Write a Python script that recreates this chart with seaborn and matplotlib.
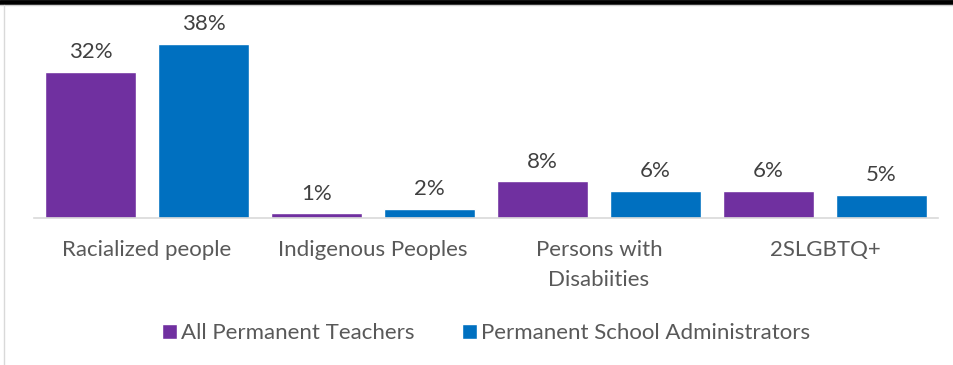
import matplotlib
matplotlib.use("Agg")
import matplotlib.pyplot as plt
from matplotlib.lines import Line2D
from matplotlib.patches import Rectangle
import seaborn as sns
import pandas as pd

categories = ["Racialized people", "Indigenous Peoples", "Persons with\nDisabiities", "2SLGBTQ+"]
series_names = ["All Permanent Teachers", "Permanent School Administrators"]
teachers = [32, 1, 8, 6]
administrators = [38, 2, 6, 5]
colors = ["#7030A0", "#0070C0"]

df = pd.DataFrame({
    "category": categories * 2,
    "group": [series_names[0]] * len(categories) + [series_names[1]] * len(categories),
    "value": teachers + administrators,
})

sns.set_theme(style="white")
plt.rcParams["font.family"] = ["Lato", "DejaVu Sans"]

fig = plt.figure(figsize=(9.54, 3.65), dpi=100)
ax = fig.add_axes([34 / 954, 1 - 218 / 365, 904 / 954, 183 / 365])

sns.barplot(data=df, x="category", y="value", hue="group", palette=colors,
            width=1.0, gap=0.19, saturation=1, ax=ax, legend=True)

ax.set_xlim(-0.5, 3.5)
ax.set_ylim(0, 40)
ax.set_xlabel("")
ax.set_ylabel("")
ax.set_yticks([])
for side in ["top", "right", "left"]:
    ax.spines[side].set_visible(False)
ax.spines["bottom"].set_color("#D9D9D9")
ax.spines["bottom"].set_linewidth(1.2)
ax.tick_params(axis="x", length=0, pad=16, labelsize=16, labelcolor="#595959")
for lbl in ax.get_xticklabels():
    lbl.set_linespacing(1.6)

for container in ax.containers:
    ax.bar_label(container, fmt="%d%%", padding=7, fontsize=16, color="#404040")

handles = [Rectangle((0, 0), 1, 1, facecolor=c) for c in colors]
ax.legend(handles, series_names, loc="center", bbox_to_anchor=(0.5, -0.63),
          ncol=2, frameon=False, fontsize=16, handlelength=0.68, handleheight=0.68,
          handletextpad=0.2, columnspacing=2.1, labelcolor="#595959")

# Frame lines around the figure
fig.add_artist(Line2D([0, 1], [1 - 2 / 365, 1 - 2 / 365], color="black", linewidth=3.5,
                      transform=fig.transFigure))
fig.add_artist(Line2D([0, 1], [1 - 5 / 365, 1 - 5 / 365], color="#D0D0D0", linewidth=1,
                      transform=fig.transFigure))
fig.add_artist(Line2D([4.5 / 954, 4.5 / 954], [0, 1 - 5 / 365], color="#D9D9D9", linewidth=1,
                      transform=fig.transFigure))

fig.savefig("out.png", dpi=100)
